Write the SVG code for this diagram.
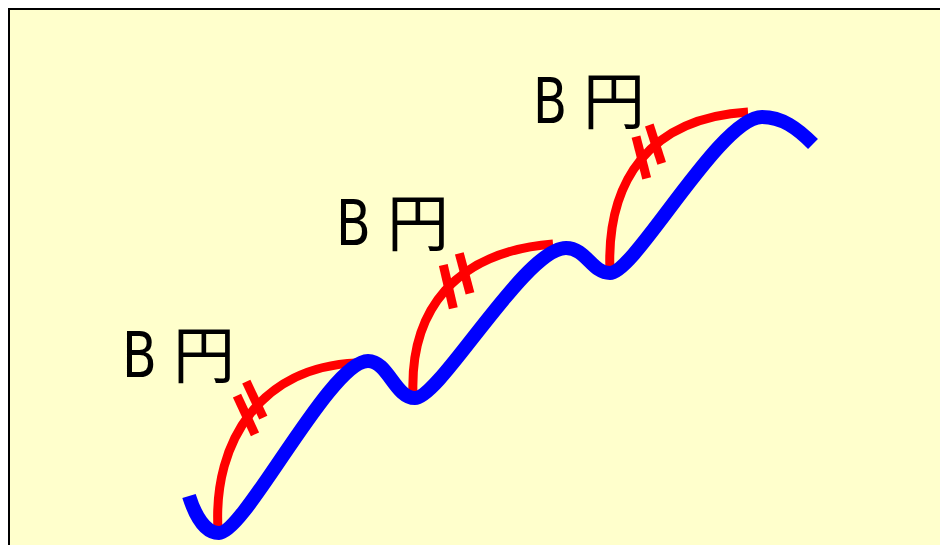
<svg xmlns="http://www.w3.org/2000/svg" width="940" height="545" viewBox="0 0 940 545">
  <style>
    .bg { fill: #FFFFCC; stroke: #000000; stroke-width: 2; }
    .blue { fill: none; stroke: #0000FF; stroke-width: 14; stroke-linecap: butt; stroke-linejoin: round; }
    .red { fill: none; stroke: #FF0000; stroke-width: 9; stroke-linecap: butt; }
    .tick { fill: none; stroke: #FF0000; stroke-width: 9; stroke-linecap: butt; }
    .lbl { fill: #000000; font-size: 62px; }
    .lat { font-family: "DejaVu Sans", "Liberation Sans", sans-serif; }
    .cjk { font-family: "Noto Sans CJK JP", "Noto Sans CJK SC", sans-serif; }
  </style>
  <rect x="0" y="0" width="940" height="545" fill="#FFFFFF"/>
  <rect class="bg" x="9" y="9" width="1000" height="1000"/>

  <g id="arcs">
    <g id="arc1">
      <path class="red" d="M 218 529 C 213 440, 262 367, 356 363"/>
      <line class="tick" x1="237" y1="395.7" x2="255" y2="434.3"/>
      <line class="tick" x1="246.3" y1="381.7" x2="263.3" y2="417.7"/>
    </g>
    <g id="arc2">
      <path class="red" d="M 413 394 C 410 310, 455 252, 553 244"/>
      <line class="tick" x1="443.3" y1="265" x2="453.3" y2="308.3"/>
      <line class="tick" x1="459.3" y1="253.3" x2="470" y2="293.3"/>
    </g>
    <g id="arc3">
      <path class="red" d="M 610 272 C 606 180, 650 118, 748 112"/>
      <line class="tick" x1="636" y1="136.7" x2="646.7" y2="178.3"/>
      <line class="tick" x1="649.3" y1="125" x2="661.7" y2="163.3"/>
    </g>
  </g>

  <g id="curve">
    <path class="blue" d="M 189 496 C 195 515, 205 533, 219 533 C 245 533, 330 361, 368 361 C 388 361, 395 398, 415 398 C 440 398, 525 248, 566 248 C 586 248, 592 273, 610 273 C 635 273, 720 117, 762 117 C 782 117, 797 128, 813 144"/>
  </g>

  <g id="labels">
    <text id="label1" class="lbl" x="122" y="377"><tspan class="lat" textLength="51" lengthAdjust="spacingAndGlyphs">B </tspan><tspan class="cjk" dy="1">円</tspan></text>
    <text id="label2" class="lbl" x="336" y="245"><tspan class="lat" textLength="51" lengthAdjust="spacingAndGlyphs">B </tspan><tspan class="cjk" dy="1">円</tspan></text>
    <text id="label3" class="lbl" x="533" y="123"><tspan class="lat" textLength="50" lengthAdjust="spacingAndGlyphs">B </tspan><tspan class="cjk" dy="1">円</tspan></text>
  </g>
</svg>
